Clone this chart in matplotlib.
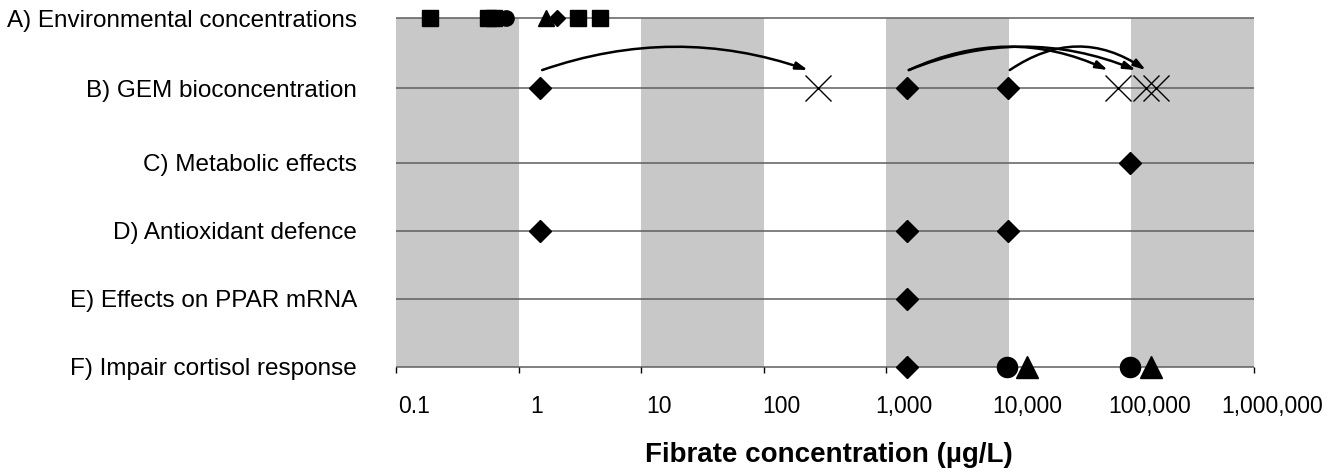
import numpy as np
import matplotlib
matplotlib.use("Agg")
import matplotlib.pyplot as plt
from matplotlib.transforms import offset_copy, ScaledTranslation

plt.rcParams['font.family'] = ['Liberation Sans', 'DejaVu Sans']

# ---------------- data ----------------
categories = ["A) Environmental concentrations",
              "B) GEM bioconcentration",
              "C) Metabolic effects",
              "D) Antioxidant defence",
              "E) Effects on PPAR mRNA",
              "F) Impair cortisol response"]

env_squares = [0.19, 0.56, 0.63, 3.05, 4.6]
env_circles = [0.79]
env_triangles = [1.67]
env_diamonds = [2.06]

gem_diamonds = [1.5, 1470, 9800]
gem_crosses = [277, 77500, 131000, 158000]
gem_arrows = [(1.5, 277), (1470, 77500), (1470, 131000), (9800, 158000)]

metabolic_diamonds = [98000]
antiox_diamonds = [1.5, 1470, 9800]
ppar_diamonds = [1470]
cortisol_diamonds = [1470]
cortisol_circles = [9600, 97000]
cortisol_triangles = [14000, 144000]

tick_values = [0.1, 1, 10, 100, 1000, 10000, 100000, 1000000]
tick_labels = ["0.1", "1", "10", "100", "1,000", "10,000", "100,000", "1,000,000"]
xlabel = "Fibrate concentration (µg/L)"

# ---------------- layout ----------------
row_y = [5.13, 4.10, 3.0, 2.0, 1.0, 0.0]
W, H, DPI = 1331, 472, 100
fig = plt.figure(figsize=(W / DPI, H / DPI), dpi=DPI)
ax = fig.add_axes([396 / W, 1 - 367 / H, (1254 - 396) / W, (367 - 18) / H])
ax.set_xscale('log')
ax.set_xlim(tick_values[0], tick_values[-1])
ax.set_ylim(row_y[-1], row_y[0])

band_color = '#c8c8c8'
for i in range(0, len(tick_values) - 1, 2):
    ax.axvspan(tick_values[i], tick_values[i + 1], color=band_color, lw=0, zorder=0)

for y in row_y:
    ax.hlines(y, tick_values[0], tick_values[-1], color='#5e5e5e', lw=1.1, zorder=1,
              clip_on=False)

for s in ax.spines.values():
    s.set_visible(False)

yA, yB, yC, yD, yE, yF = row_y

def pts(xs, y, marker, ms, **kw):
    ax.plot(xs, [y] * len(xs), ls='none', marker=marker, ms=ms, color='black',
            clip_on=False, zorder=5, **kw)

# row A (smaller markers)
pts(env_squares, yA, 's', 11)
pts(env_circles, yA, 'o', 11)
pts(env_triangles, yA, '^', 12)
pts(env_diamonds, yA, 'D', 8.5)

# row B
pts(gem_diamonds, yB, 'D', 11)
pts(gem_crosses, yB, 'x', 19, mew=1.0)

# rows C-F
pts(metabolic_diamonds, yC, 'D', 11)
pts(antiox_diamonds, yD, 'D', 11)
pts(ppar_diamonds, yE, 'D', 11)
pts(cortisol_diamonds, yF, 'D', 11)
pts(cortisol_circles, yF, 'o', 14.5)
pts(cortisol_triangles, yF, '^', 15.5)

# arrows for bioconcentration
px_per_decade = (ax.transData.transform((10, 0))[0] - ax.transData.transform((1, 0))[0])
start_tr = offset_copy(ax.transData, fig=fig, x=2, y=18, units='dots')
end_tr = offset_copy(ax.transData, fig=fig, x=-10, y=18, units='dots')
for x0, x1 in gem_arrows:
    chord = (np.log10(x1) - np.log10(x0)) * px_per_decade - 12
    rad = -2 * 23 / chord
    ax.annotate('', xy=(x1, yB), xycoords=end_tr, xytext=(x0, yB), textcoords=start_tr,
                arrowprops=dict(arrowstyle='-|>,head_length=0.7,head_width=0.22',
                                connectionstyle=f'arc3,rad={rad:.3f}',
                                lw=1.8, color='black', shrinkA=0, shrinkB=0),
                zorder=6, annotation_clip=False)

# ticks
ax.set_xticks(tick_values)
ax.set_xticklabels(tick_labels, fontsize=16.5)
ax.minorticks_off()
ax.tick_params(axis='x', direction='out', length=4, width=1, color='black', pad=16)
shift = ScaledTranslation(18 / DPI, 0, fig.dpi_scale_trans)
for lab in ax.get_xticklabels():
    lab.set_transform(lab.get_transform() + shift)

ax.set_yticks(row_y)
ax.set_yticklabels(categories, fontsize=17.5)
ax.tick_params(axis='y', length=0, pad=28)

ax.set_xlabel(xlabel, fontsize=20, fontweight='bold')
ax.xaxis.set_label_coords(0.505, -0.215)

fig.savefig('out.png', dpi=DPI)
